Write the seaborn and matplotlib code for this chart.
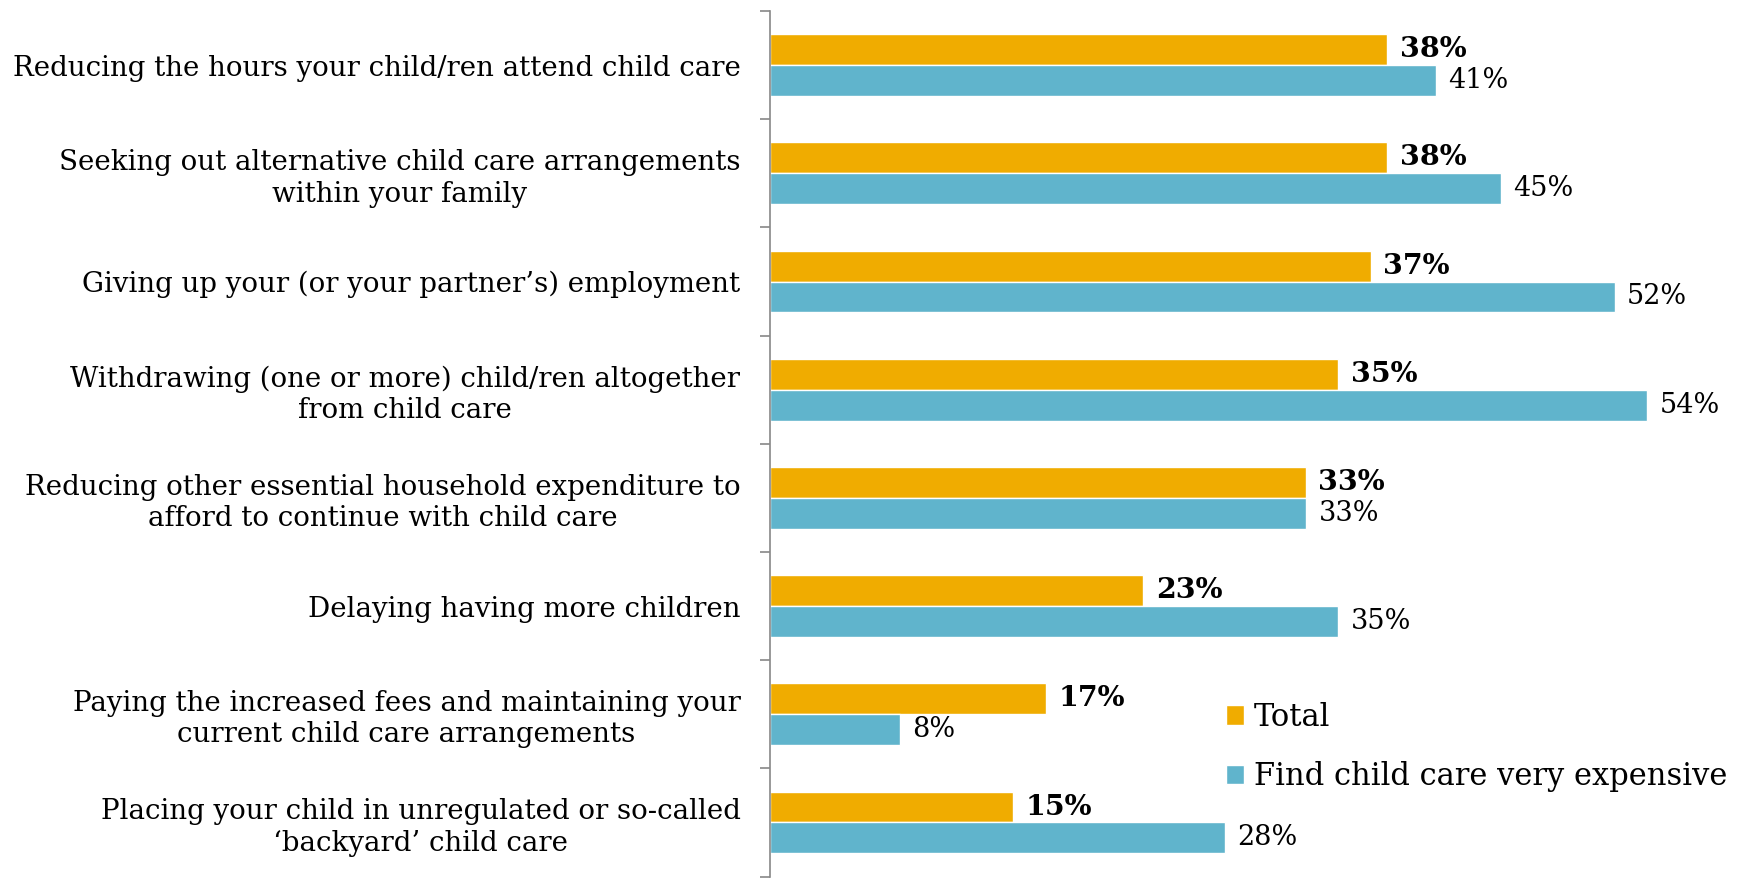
import pandas as pd
import matplotlib.pyplot as plt
import seaborn as sns
import numpy as np

# Survey responses (percent)
categories = [
    "Reducing the hours your child/ren attend child care",
    "Seeking out alternative child care arrangements\nwithin your family",
    "Giving up your (or your partner\u2019s) employment",
    "Withdrawing (one or more) child/ren altogether\nfrom child care",
    "Reducing other essential household expenditure to\nafford to continue with child care",
    "Delaying having more children",
    "Paying the increased fees and maintaining your\ncurrent child care arrangements",
    "Placing your child in unregulated or so-called\n\u2018backyard\u2019 child care",
]
total = [38, 38, 37, 35, 33, 23, 17, 15]
expensive = [41, 45, 52, 54, 33, 35, 8, 28]
series = ["Total", "Find child care very expensive"]
colors = ["#F0AC00", "#60B4CC"]

df = pd.DataFrame({
    "Category": categories * 2,
    "Value": total + expensive,
    "Group": [series[0]] * len(categories) + [series[1]] * len(categories),
})

sns.set_style("white")
plt.rcParams['font.family'] = ['DejaVu Serif']
plt.rcParams['text.color'] = 'black'

fig = plt.figure(figsize=(17.61, 8.81), dpi=100)
ax = fig.add_axes([0.437, 0.005, 0.563, 0.9825])

sns.barplot(data=df, y="Category", x="Value", hue="Group", orient="h",
            palette=colors, width=0.57, saturation=1, ax=ax, errorbar=None)

# value labels: bold for Total, regular for the other group
for i, cont in enumerate(ax.containers):
    ax.bar_label(cont, labels=[f"{int(v)}%" for v in cont.datavalues],
                 padding=9, fontsize=20.5 if i == 0 else 19.5,
                 fontweight="bold" if i == 0 else "normal", color="black")

ax.set_xlim(0, 61)
ax.set_ylim(7.5, -0.5)
ax.set_xlabel("")
ax.set_ylabel("")
ax.xaxis.set_visible(False)

# category labels at centers, tick marks at boundaries
ax.set_yticks(np.arange(len(categories)))
ax.set_yticklabels(categories, fontsize=19.9, multialignment="center", color="black")
ax.set_yticks(np.arange(-0.5, len(categories), 1), minor=True)
ax.tick_params(axis="y", which="major", length=0, pad=21)
ax.tick_params(axis="y", which="minor", length=7, width=1.2, color="#888888", left=True)

for s in ["top", "right", "bottom"]:
    ax.spines[s].set_visible(False)
ax.spines["left"].set_color("#888888")
ax.spines["left"].set_linewidth(1.2)

leg = ax.legend(loc="lower left", bbox_to_anchor=(0.445, 0.08), frameon=False,
                fontsize=22, handlelength=0.6, handleheight=0.6, handletextpad=0.3,
                labelspacing=0.92, borderpad=0)
for t in leg.get_texts():
    t.set_color("black")

fig.savefig("out.png", dpi=100)
